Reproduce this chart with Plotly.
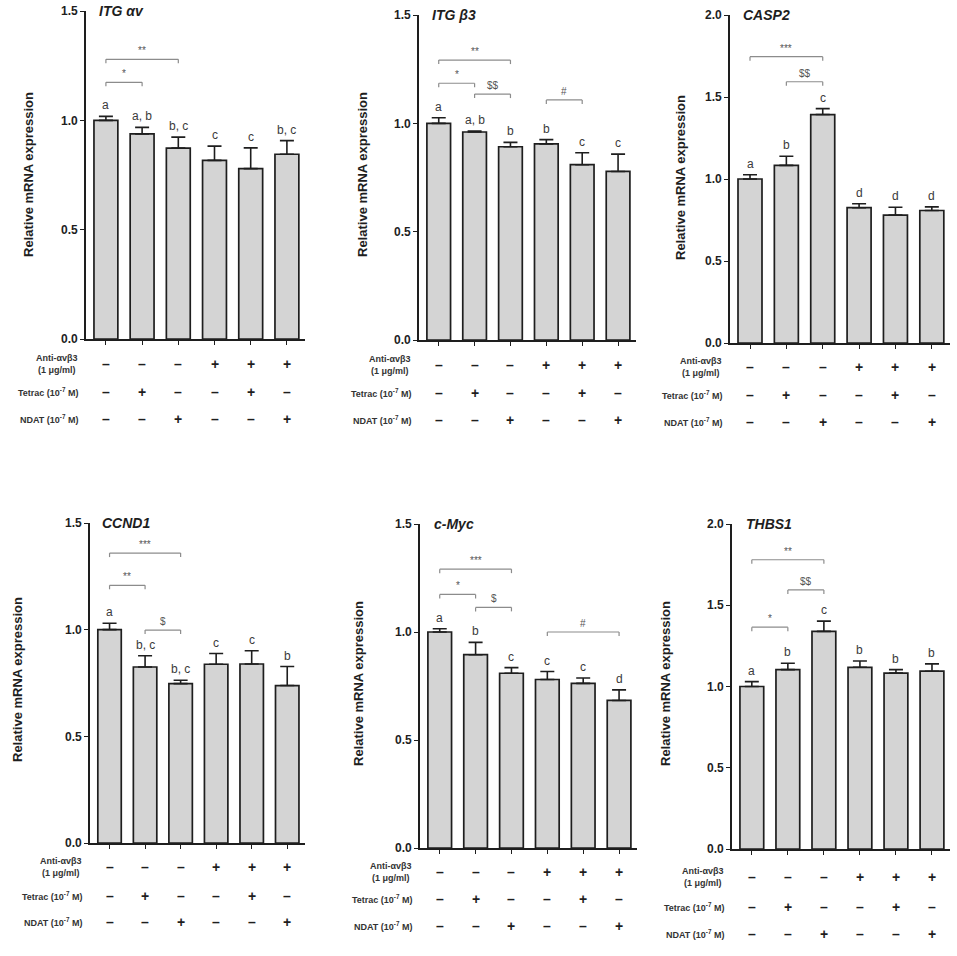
import plotly.graph_objects as go

# ---- data ----
GENES = ['ITG αv', 'ITG β3', 'CASP2', 'CCND1', 'c-Myc', 'THBS1']
ANTI = ['–', '–', '–', '+', '+', '+']
TETRAC = ['–', '+', '–', '–', '+', '–']
NDAT = ['–', '–', '+', '–', '–', '+']
ROW_LABELS = ['Anti-αvβ3<br>(1 μg/ml)', 'Tetrac (10<sup>-7</sup> M)', 'NDAT (10<sup>-7</sup> M)']

itg_av_mean = [1.00, 0.938, 0.873, 0.817, 0.779, 0.845]
itg_av_sem = [0.018, 0.030, 0.050, 0.065, 0.095, 0.062]
itg_av_letters = ['a', 'a, b', 'b, c', 'c', 'c', 'b, c']
itg_av_brackets = [(0, 1, 1.174, '*'), (0, 2, 1.279, '**')]

itg_b3_mean = [1.00, 0.960, 0.892, 0.905, 0.809, 0.778]
itg_b3_sem = [0.026, 0.004, 0.020, 0.020, 0.055, 0.080]
itg_b3_letters = ['a', 'a, b', 'b', 'b', 'c', 'c']
itg_b3_brackets = [(0, 2, 1.292, '**'), (0, 1, 1.185, '*'), (1, 2, 1.135, '$$'), (3, 4, 1.108, '#')]

casp2_mean = [1.00, 1.083, 1.393, 0.825, 0.780, 0.808]
casp2_sem = [0.026, 0.056, 0.036, 0.024, 0.048, 0.022]
casp2_letters = ['a', 'b', 'c', 'd', 'd', 'd']
casp2_brackets = [(0, 2, 1.746, '***'), (1, 2, 1.593, '$$')]

ccnd1_mean = [1.00, 0.825, 0.747, 0.838, 0.839, 0.738]
ccnd1_sem = [0.030, 0.053, 0.016, 0.050, 0.062, 0.089]
ccnd1_letters = ['a', 'b, c', 'b, c', 'c', 'c', 'b']
ccnd1_brackets = [(0, 2, 1.359, '***'), (0, 1, 1.208, '**'), (1, 2, 0.998, '$')]

cmyc_mean = [1.00, 0.895, 0.809, 0.780, 0.762, 0.683]
cmyc_sem = [0.015, 0.057, 0.026, 0.037, 0.025, 0.049]
cmyc_letters = ['a', 'b', 'c', 'c', 'c', 'd']
cmyc_brackets = [(0, 2, 1.291, '***'), (0, 1, 1.174, '*'), (1, 2, 1.114, '$'), (3, 5, 1.000, '#')]

thbs1_mean = [1.00, 1.104, 1.339, 1.118, 1.082, 1.094]
thbs1_sem = [0.030, 0.039, 0.063, 0.039, 0.022, 0.045]
thbs1_letters = ['a', 'b', 'c', 'b', 'b', 'b']
thbs1_brackets = [(0, 2, 1.780, '**'), (1, 2, 1.594, '$$'), (0, 1, 1.365, '*')]

MEANS = [itg_av_mean, itg_b3_mean, casp2_mean, ccnd1_mean, cmyc_mean, thbs1_mean]
SEMS = [itg_av_sem, itg_b3_sem, casp2_sem, ccnd1_sem, cmyc_sem, thbs1_sem]
LETTERS = [itg_av_letters, itg_b3_letters, casp2_letters, ccnd1_letters, cmyc_letters, thbs1_letters]
BRACKETS = [itg_av_brackets, itg_b3_brackets, casp2_brackets, ccnd1_brackets, cmyc_brackets, thbs1_brackets]
YMAX = [1.5, 1.5, 2.0, 1.5, 1.5, 2.0]

# ---- panel geometry (pixels) ----
W, H = 957, 956
# axis x0/x1, y top / y zero, gene title x,y, y-title x,y, treatment rows y
PANELS = [
    dict(x0=86, x1=305, yt=11, yb=339, tx=97, ty=11, lx=28, ly=175, rows=(364, 392, 419)),
    dict(x0=419, x1=636, yt=15, yb=340, tx=430, ty=15, lx=362, ly=175, rows=(365, 393, 420)),
    dict(x0=730, x1=950, yt=15, yb=343, tx=741, ty=15, lx=680, ly=178, rows=(367, 395, 422)),
    dict(x0=90, x1=305, yt=523, yb=843, tx=100, ty=523, lx=17, ly=680, rows=(867, 896, 922)),
    dict(x0=420, x1=637, yt=524, yb=848, tx=432, ty=524, lx=358, ly=684, rows=(872, 899, 926)),
    dict(x0=732, x1=950, yt=524, yb=849, tx=744, ty=524, lx=665, ly=684, rows=(877, 907, 934)),
]

FONT = 'Liberation Sans, Arial, sans-serif'
INK = '#1e1e1e'


def xp(px):
    return px / W


def yp(py):
    return 1 - py / H


fig = go.Figure()
annotations = []
shapes = []
xs = list(range(6))

for k in range(6):
    p = PANELS[k]
    n = k + 1
    xa, ya = f'x{n}', f'y{n}'
    fig.add_trace(go.Bar(
        x=xs, y=MEANS[k], width=0.66, xaxis=xa, yaxis=ya, showlegend=False,
        marker=dict(color='#d4d4d4', line=dict(color=INK, width=1.7)),
        error_y=dict(type='data', array=SEMS[k], arrayminus=[0] * 6, symmetric=False,
                     color=INK, thickness=1.6, width=7),
    ))
    fig.update_layout({
        f'xaxis{n}': dict(domain=[xp(p['x0']), xp(p['x1'])], anchor=ya, range=[-0.55, 5.5],
                          showline=True, linecolor=INK, linewidth=1.6, ticks='outside',
                          ticklen=4, tickwidth=1.4, tickcolor=INK, tickvals=xs,
                          showticklabels=False, showgrid=False, zeroline=False,
                          automargin=False, fixedrange=True),
        f'yaxis{n}': dict(domain=[yp(p['yb']), yp(p['yt'])], anchor=xa, range=[0, YMAX[k]],
                          showline=True, linecolor=INK, linewidth=1.6, ticks='outside',
                          ticklen=4, tickwidth=1.4, tickcolor=INK, dtick=0.5, tickformat='.1f',
                          tickfont=dict(family=FONT, size=12, color=INK, weight='bold'),
                          showgrid=False, zeroline=False, automargin=False, fixedrange=True),
    })

    # gene title
    annotations.append(dict(xref='paper', yref='paper', x=xp(p['tx']), y=yp(p['ty']),
                            xanchor='left', yanchor='middle', showarrow=False,
                            text=f'<b><i>{GENES[k]}</i></b>',
                            font=dict(family=FONT, size=14, color=INK)))
    # y title
    annotations.append(dict(xref='paper', yref='paper', x=xp(p['lx']), y=yp(p['ly']),
                            xanchor='center', yanchor='middle', showarrow=False, textangle=-90,
                            text='<b>Relative mRNA expression</b>',
                            font=dict(family=FONT, size=13, color=INK)))
    # letters above the bars
    for i in xs:
        annotations.append(dict(xref=xa, yref=ya, x=i, y=MEANS[k][i] + SEMS[k][i],
                                xanchor='center', yanchor='bottom', yshift=2, showarrow=False,
                                text=LETTERS[k][i], font=dict(family=FONT, size=12, color='#3a3a3a')))
    # significance brackets
    for (a, b, yb, lab) in BRACKETS[k]:
        shapes.append(dict(type='line', xref=xa, yref=ya, x0=a, x1=b, y0=yb, y1=yb,
                           line=dict(color='#8c8c8c', width=1.2)))
        for xe in (a, b):
            shapes.append(dict(type='line', xref=xa, yref=ya, ysizemode='pixel', yanchor=yb,
                               x0=xe, x1=xe, y0=0, y1=-4, line=dict(color='#8c8c8c', width=1.2)))
        annotations.append(dict(xref=xa, yref=ya, x=(a + b) / 2, y=yb, xanchor='center',
                                yanchor='bottom', yshift=1, showarrow=False,
                                text=lab.replace('$', '&#36;'),
                                font=dict(family=FONT, size=10, color='#555555')))
    # treatment rows
    for r, (lab, row) in enumerate(zip(ROW_LABELS, [ANTI, TETRAC, NDAT])):
        annotations.append(dict(xref='paper', yref='paper', x=xp(p['x0'] - 6), y=yp(p['rows'][r]),
                                xanchor='right', yanchor='middle', align='center', showarrow=False,
                                text=f'<b>{lab}</b>', font=dict(family=FONT, size=9, color='#333333')))
        for i in xs:
            annotations.append(dict(xref=xa, yref='paper', x=i, y=yp(p['rows'][r]),
                                    xanchor='center', yanchor='middle', showarrow=False,
                                    text=f'<b>{row[i]}</b>', font=dict(family=FONT, size=14, color=INK)))

fig.update_layout(template='none', width=W, height=H, margin=dict(l=0, r=0, t=0, b=0, pad=0),
                  paper_bgcolor='white', plot_bgcolor='white', bargap=0.3,
                  annotations=annotations, shapes=shapes, font=dict(family=FONT))

fig.write_html('out.html', config={'displayModeBar': False},
               post_script="document.body.style.margin='0px';")
